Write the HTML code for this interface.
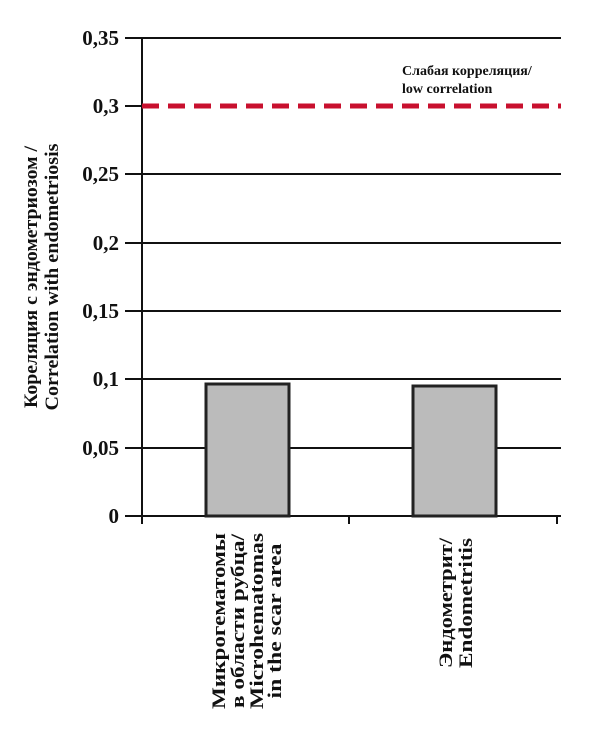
<!DOCTYPE html>
<html><head><meta charset="utf-8"><style>body{margin:0;background:#fff}</style></head><body>
<svg width="600" height="730" xmlns="http://www.w3.org/2000/svg" font-family="'Liberation Serif',serif" font-weight="bold" fill="#111">
<g stroke="#111" stroke-width="2">
<line x1="125" y1="38" x2="561" y2="38"/>
<line x1="125" y1="174" x2="561" y2="174"/>
<line x1="125" y1="243" x2="561" y2="243"/>
<line x1="125" y1="311" x2="561" y2="311"/>
<line x1="125" y1="379" x2="561" y2="379"/>
<line x1="125" y1="448" x2="561" y2="448"/>
<line x1="125" y1="106" x2="142" y2="106"/>
<line x1="142" y1="38" x2="142" y2="524"/>
<line x1="125" y1="516" x2="561" y2="516"/>
<line x1="349" y1="516" x2="349" y2="524"/>
<line x1="557" y1="516" x2="557" y2="524"/>
</g>
<line x1="142" y1="106" x2="561" y2="106" stroke="#c8102e" stroke-width="5" stroke-dasharray="17,9"/>
<rect x="206" y="384" width="83" height="132" fill="#bbb" stroke="#222" stroke-width="3"/>
<rect x="413" y="386" width="83" height="130" fill="#bbb" stroke="#222" stroke-width="3"/>
<g font-size="21" text-anchor="end">
<text x="119" y="45">0,35</text>
<text x="119" y="113">0,3</text>
<text x="119" y="181">0,25</text>
<text x="119" y="250">0,2</text>
<text x="119" y="318">0,15</text>
<text x="119" y="386">0,1</text>
<text x="119" y="455">0,05</text>
<text x="119" y="523">0</text>
</g>
<text x="402" y="75" font-size="14">Слабая корреляция/</text>
<text x="402" y="93" font-size="14">low correlation</text>
<g font-size="19" text-anchor="middle">
<text transform="translate(37,277) rotate(-90)" textLength="262" lengthAdjust="spacingAndGlyphs">Кореляция с эндометриозом /</text>
<text transform="translate(58,277) rotate(-90)" textLength="267" lengthAdjust="spacingAndGlyphs">Correlation with endometriosis</text>
<text transform="translate(225,621) rotate(-90)" textLength="176" lengthAdjust="spacingAndGlyphs">Микрогематомы</text>
<text transform="translate(244,621) rotate(-90)" textLength="174" lengthAdjust="spacingAndGlyphs">в области рубца/</text>
<text transform="translate(263,621) rotate(-90)" textLength="176" lengthAdjust="spacingAndGlyphs">Microhematomas</text>
<text transform="translate(281,621) rotate(-90)" textLength="155" lengthAdjust="spacingAndGlyphs">in the scar area</text>
<text transform="translate(452,603) rotate(-90)" textLength="130" lengthAdjust="spacingAndGlyphs">Эндометрит/</text>
<text transform="translate(472,603) rotate(-90)" textLength="130" lengthAdjust="spacingAndGlyphs">Endometritis</text>
</g>
</svg>
</body></html>
